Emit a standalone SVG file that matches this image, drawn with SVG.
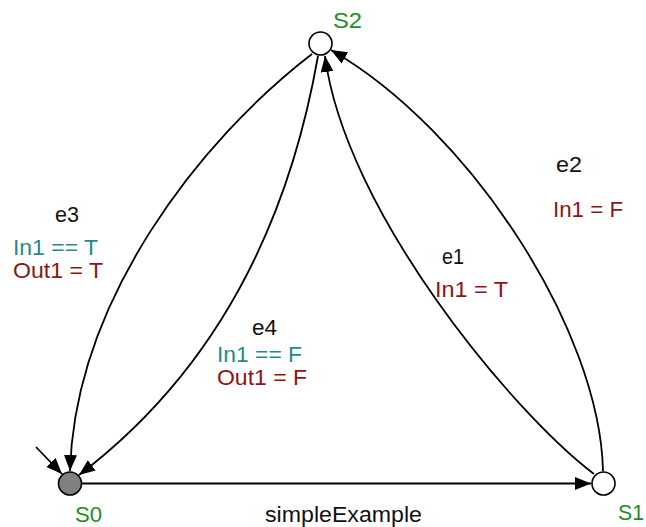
<svg xmlns="http://www.w3.org/2000/svg" width="646" height="527" viewBox="0 0 646 527">
<style>
text{font-family:"Liberation Sans",Arial,sans-serif;font-size:22px}
.st{fill:#1e8f1e}
.ev{fill:#111}
.gd{fill:#1f8c8c}
.ac{fill:#8c1414}
.edge{fill:none;stroke:#000;stroke-width:1.8;marker-end:url(#ah)}
.node{stroke:#000;stroke-width:1.6}
</style>
<defs>
<marker id="ah" markerUnits="userSpaceOnUse" markerWidth="17" markerHeight="13" refX="16" refY="6.5" orient="auto">
<path d="M0,0 L16,6.5 L0,13 z" fill="#000"/>
</marker>
</defs>
<g id="connectors">
<path id="init" class="edge" d="M36,447 L62,474"/>
<path id="sim" class="edge" d="M82,483.5 L591,483.5"/>
<path id="e1" class="edge" d="M594,474 C510,410 345,210 325,56"/>
<path id="e2" class="edge" d="M603,471 C600,330 470,130 331,50"/>
<path id="e3" class="edge" d="M312,54 C200,140 75,300 70,471"/>
<path id="e4" class="edge" d="M318,56 Q270,330 79,475"/>
</g>
<g id="S2">
<circle class="node" cx="320.5" cy="43.5" r="11.5" fill="#fff"/>
<text class="st" x="333" y="28" textLength="29" lengthAdjust="spacingAndGlyphs">S2</text>
</g>
<g id="S0">
<circle class="node" cx="70" cy="483.5" r="11.5" fill="#808080"/>
<text class="st" x="75" y="522" textLength="27" lengthAdjust="spacingAndGlyphs">S0</text>
</g>
<g id="S1">
<circle class="node" cx="603.5" cy="483.5" r="11.5" fill="#fff"/>
<text class="st" x="618" y="520" textLength="26" lengthAdjust="spacingAndGlyphs">S1</text>
</g>
<g id="labels">
<text class="ev" x="265" y="522" textLength="157" lengthAdjust="spacingAndGlyphs">simpleExample</text>
<text class="ev" x="556" y="172" textLength="26" lengthAdjust="spacingAndGlyphs">e2</text>
<text class="ac" x="553" y="217" textLength="70" lengthAdjust="spacingAndGlyphs">In1 = F</text>
<text class="ev" x="442" y="264" textLength="22" lengthAdjust="spacingAndGlyphs">e1</text>
<text class="ac" x="435" y="297" textLength="73" lengthAdjust="spacingAndGlyphs">In1 = T</text>
<text class="ev" x="55" y="222" textLength="24" lengthAdjust="spacingAndGlyphs">e3</text>
<text class="gd" x="13" y="255" textLength="85" lengthAdjust="spacingAndGlyphs">In1 == T</text>
<text class="ac" x="13" y="278" textLength="90" lengthAdjust="spacingAndGlyphs">Out1 = T</text>
<text class="ev" x="252" y="335" textLength="25" lengthAdjust="spacingAndGlyphs">e4</text>
<text class="gd" x="217" y="362" textLength="85" lengthAdjust="spacingAndGlyphs">In1 == F</text>
<text class="ac" x="217" y="385" textLength="90" lengthAdjust="spacingAndGlyphs">Out1 = F</text>
</g>
</svg>
